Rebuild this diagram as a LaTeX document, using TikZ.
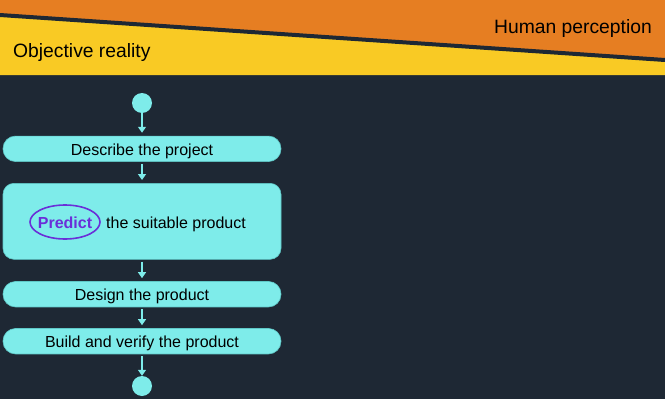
\documentclass[tikz,border=0pt]{standalone}
\usepackage{fontspec}
\setmainfont{Liberation Sans}
\usetikzlibrary{arrows.meta}
\definecolor{bgdark}{HTML}{1E2834}
\definecolor{hdorange}{HTML}{E67E22}
\definecolor{hdyellow}{HTML}{F9CA24}
\definecolor{cyanbox}{HTML}{7EECEA}
\definecolor{cyanedge}{HTML}{5FC9C8}
\definecolor{purp}{HTML}{6A2FD8}
\tikzset{
  stepbox/.style={draw=cyanedge, line width=0.6pt, fill=cyanbox, rectangle,
    minimum width=278pt, minimum height=25.5pt, inner sep=0pt,
    text height=13.5pt, text depth=0pt,
    rounded corners=12.5pt, font=\fontsize{16}{18}\selectfont, text=black},
  dot/.style={circle, fill=cyanbox, minimum size=20pt, inner sep=0pt},
  flowarr/.style={draw=cyanbox, line width=1.3pt,
    -{Triangle[width=8pt,length=6pt]}, shorten <=2pt, shorten >=3pt},
  hdtext/.style={font=\fontsize{19.3}{22}\selectfont, text=black, inner sep=0pt,
    text height=13.8pt, text depth=0pt}
}
\begin{document}
\begin{tikzpicture}[x=1pt,y=-1pt]
\useasboundingbox (0,0) rectangle (665,399);
\fill[bgdark] (0,0) rectangle (665,399);
\fill[hdorange] (0,0) rectangle (665,75);
\fill[hdyellow] (0,15) -- (665,60) -- (665,75) -- (0,75) -- cycle;
\draw[bgdark, line width=4pt] (0,15) -- (665,60);
\node[hdtext, anchor=east] (hp) at (652,26.3) {Human perception};
\node[hdtext, anchor=west] (or) at (13,50.3) {Objective reality};

\node[dot] (start) at (142,103) {};
\node[stepbox] (b1) at (142,148.8) {Describe the project};
\node[stepbox, minimum height=76pt, rounded corners=11pt] (b2) at (142,221.3) {};
\node[inner sep=0pt, text=purp, text height=11.5pt, text depth=0pt,
      font=\fontsize{16}{18}\selectfont\bfseries] (pred) at (65,222.5) {Predict};
\draw[purp, line width=1.6pt] (65,222) ellipse [x radius=35, y radius=17];
\node[anchor=west, inner sep=0pt, text height=11.5pt, text depth=0pt,
      font=\fontsize{16}{18}\selectfont] (rest) at (106,222.5) {the suitable product};
\node[stepbox] (b3) at (142,294.2) {Design the product};
\node[stepbox] (b4) at (142,341.2) {Build and verify the product};
\node[dot] (stop) at (142,386) {};

\draw[flowarr, shorten <=0pt] (start) -- (b1);
\draw[flowarr] (b1) -- (b2);
\draw[flowarr] (b2) -- (b3);
\draw[flowarr] (b3) -- (b4);
\draw[flowarr, shorten >=0pt] (b4) -- (stop);
\end{tikzpicture}
\end{document}
